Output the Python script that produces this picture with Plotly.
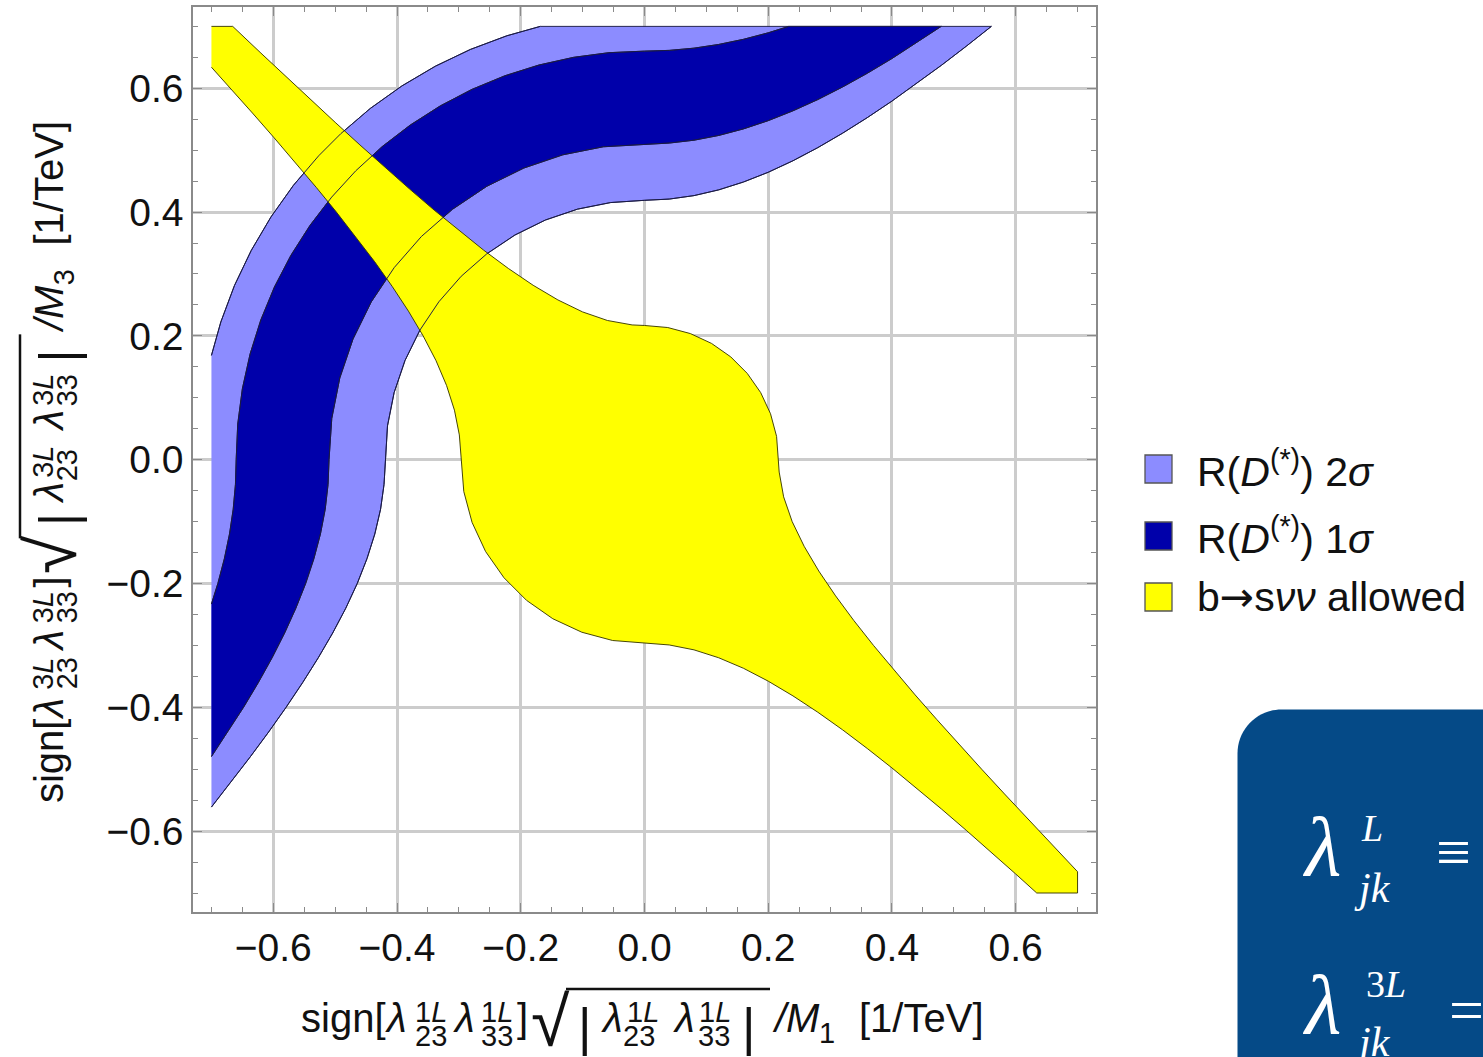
import plotly.graph_objects as go

# ---------------- data (units 1/TeV) ----------------
CLIP = 0.7  # region-plot range on both axes

# R(D(*)) 2 sigma band: inner boundary (bottom-left -> top-right)
band2_in_x = [-0.7000, -0.6678, -0.6372, -0.6076, -0.5793, -0.5525, -0.5273, -0.5040, -0.4829, -0.4643,
              -0.4486, -0.4359, -0.4266, -0.4210, -0.4190,
              -0.4154, -0.4047, -0.3871, -0.3629, -0.3324, -0.2963, -0.2551, -0.2095, -0.1603, -0.1084,
              -0.0547, 0.0000,
              0.0400, 0.0800, 0.1200, 0.1600, 0.2000, 0.2400, 0.2800, 0.3200, 0.3600, 0.4000, 0.4400,
              0.4800, 0.5200, 0.5607]
band2_in_y = [-0.5612, -0.5200, -0.4800, -0.4400, -0.4000, -0.3600, -0.3200, -0.2800, -0.2400, -0.2000,
              -0.1600, -0.1200, -0.0800, -0.0400, 0.0000,
              0.0547, 0.1084, 0.1603, 0.2095, 0.2551, 0.2963, 0.3324, 0.3629, 0.3871, 0.4047,
              0.4154, 0.4190,
              0.4210, 0.4266, 0.4359, 0.4486, 0.4643, 0.4829, 0.5040, 0.5273, 0.5525, 0.5793, 0.6076,
              0.6372, 0.6678, 0.7000]
# R(D(*)) 2 sigma band: outer boundary
band2_out_x = [-0.7000, -0.6848, -0.6628, -0.6357, -0.6038, -0.5674, -0.5266, -0.4910, -0.4433, -0.3921,
               -0.3380, -0.2813, -0.2225, -0.1685]
band2_out_y = [0.1685, 0.2225, 0.2813, 0.3380, 0.3921, 0.4433, 0.4910, 0.5266, 0.5674, 0.6038,
               0.6357, 0.6628, 0.6848, 0.7000]

# R(D(*)) 1 sigma band: inner boundary
band1_in_x = [-0.7000, -0.6735, -0.6481, -0.6242, -0.6020, -0.5817, -0.5636, -0.5477, -0.5344, -0.5238,
              -0.5161, -0.5115, -0.5099,
              -0.5055, -0.4925, -0.4711, -0.4416, -0.4045, -0.3606, -0.3104, -0.2550, -0.1951, -0.1320,
              -0.0666, 0.0000,
              0.0400, 0.0800, 0.1200, 0.1600, 0.2000, 0.2400, 0.2800, 0.3200, 0.3600, 0.4000, 0.4400, 0.4796]
band1_in_y = [-0.4796, -0.4400, -0.4000, -0.3600, -0.3200, -0.2800, -0.2400, -0.2000, -0.1600, -0.1200,
              -0.0800, -0.0400, 0.0000,
              0.0666, 0.1320, 0.1951, 0.2550, 0.3104, 0.3606, 0.4045, 0.4416, 0.4711, 0.4925,
              0.5055, 0.5099,
              0.5115, 0.5161, 0.5238, 0.5344, 0.5477, 0.5636, 0.5817, 0.6020, 0.6242, 0.6481, 0.6735, 0.7000]
# R(D(*)) 1 sigma band: outer boundary
band1_out_x = [-0.7000, -0.6896, -0.6791, -0.6708, -0.6648, -0.6612, -0.6600,
               -0.6575, -0.6500, -0.6375, -0.6202, -0.5982, -0.5716, -0.5406, -0.5056, -0.4667, -0.4242,
               -0.3786, -0.3300, -0.2789, -0.2257, -0.1708, -0.1146, -0.0575, 0.0000,
               0.0400, 0.0800, 0.1200, 0.1600, 0.2000, 0.2332]
band1_out_y = [-0.2332, -0.2000, -0.1600, -0.1200, -0.0800, -0.0400, 0.0000,
               0.0575, 0.1146, 0.1708, 0.2257, 0.2789, 0.3300, 0.3786, 0.4242, 0.4667, 0.5056,
               0.5406, 0.5716, 0.5982, 0.6202, 0.6375, 0.6500, 0.6575, 0.6600,
               0.6612, 0.6648, 0.6708, 0.6791, 0.6896, 0.7000]

# b -> s nu nu allowed: upper-right boundary
bsnn_up_x = [-0.6656, -0.6200, -0.5800, -0.5400, -0.5000, -0.4600, -0.4200, -0.3800, -0.3400, -0.3000,
             -0.2600, -0.2200, -0.1800, -0.1400, -0.1000, -0.0600, -0.0200, 0.0000,
             0.0376, 0.0742, 0.1084, 0.1394, 0.1661, 0.1878, 0.2037, 0.2135, 0.2168,
             0.2177, 0.2249, 0.2387, 0.2581, 0.2818, 0.3089, 0.3385, 0.3701, 0.4032, 0.4375, 0.4727,
             0.5085, 0.5450, 0.5819, 0.6192, 0.6568, 0.7000]
bsnn_up_y = [0.7000, 0.6568, 0.6192, 0.5819, 0.5450, 0.5085, 0.4727, 0.4375, 0.4032, 0.3701,
             0.3385, 0.3089, 0.2818, 0.2581, 0.2387, 0.2249, 0.2177, 0.2168,
             0.2135, 0.2037, 0.1878, 0.1661, 0.1394, 0.1084, 0.0742, 0.0376, 0.0000,
             -0.0200, -0.0600, -0.1000, -0.1400, -0.1800, -0.2200, -0.2600, -0.3000, -0.3400, -0.3800,
             -0.4200, -0.4600, -0.5000, -0.5400, -0.5800, -0.6200, -0.6656]
# b -> s nu nu allowed: lower-left boundary
bsnn_lo_x = [-0.7000, -0.6693, -0.6337, -0.5987, -0.5643, -0.5307, -0.4980, -0.4665, -0.4363, -0.4079,
             -0.3816, -0.3578, -0.3370, -0.3200, -0.3072, -0.2993, -0.2966,
             -0.2921, -0.2787, -0.2569, -0.2272, -0.1907, -0.1483, -0.1014, -0.0515, 0.0000,
             0.0400, 0.0800, 0.1200, 0.1600, 0.2000, 0.2400, 0.2800, 0.3200, 0.3600, 0.4000, 0.4400,
             0.4800, 0.5200, 0.5600, 0.6000, 0.6340]
bsnn_lo_y = [0.6340, 0.6000, 0.5600, 0.5200, 0.4800, 0.4400, 0.4000, 0.3600, 0.3200, 0.2800,
             0.2400, 0.2000, 0.1600, 0.1200, 0.0800, 0.0400, 0.0000,
             -0.0515, -0.1014, -0.1483, -0.1907, -0.2272, -0.2569, -0.2787, -0.2921, -0.2966,
             -0.2993, -0.3072, -0.3200, -0.3370, -0.3578, -0.3816, -0.4079, -0.4363, -0.4665, -0.4980,
             -0.5307, -0.5643, -0.5987, -0.6337, -0.6693, -0.7000]

legend_labels = ["R(<i>D</i><sup>(*)</sup>) 2<i>σ</i>",
                 "R(<i>D</i><sup>(*)</sup>) 1<i>σ</i>",
                 "b<span style='font-family:DejaVu Sans'>→</span>s<i>νν</i> allowed"]
tick_vals = [-0.6, -0.4, -0.2, 0.0, 0.2, 0.4, 0.6]
tick_text = ["−0.6", "−0.4", "−0.2", "0.0", "0.2", "0.4", "0.6"]

# ---------------- styles ----------------
C_LIGHT = "#8c8cff"
C_DARK = "#0000aa"
C_YEL = "#ffff00"
EDGE_B = "rgba(25,25,70,0.95)"
EDGE_Y = "rgba(60,60,0,0.95)"
SANS = "Liberation Sans, Arial, sans-serif"
SERIF = "Liberation Serif, Times New Roman, serif"

W, H = 1483, 1057
ML, MR, MT, MB = 193, 387, 7, 145
PW, PH = W - ML - MR, H - MT - MB


def fx(px):
    return (px - ML) / PW


def fy(py):
    return (H - MB - py) / PH


fig = go.Figure()

# filled regions
poly2_x = band2_in_x + band2_out_x[::-1]
poly2_y = band2_in_y + band2_out_y[::-1]
fig.add_trace(go.Scatter(x=poly2_x, y=poly2_y, fill="toself", fillcolor=C_LIGHT, mode="lines",
                         line=dict(color=EDGE_B, width=1), hoverinfo="skip", showlegend=False))
poly1_x = band1_in_x + band1_out_x[::-1]
poly1_y = band1_in_y + band1_out_y[::-1]
fig.add_trace(go.Scatter(x=poly1_x, y=poly1_y, fill="toself", fillcolor=C_DARK, mode="lines",
                         line=dict(color=EDGE_B, width=1), hoverinfo="skip", showlegend=False))
polyy_x = [-CLIP] + bsnn_up_x + [CLIP] + bsnn_lo_x[::-1]
polyy_y = [CLIP] + bsnn_up_y + [-CLIP] + bsnn_lo_y[::-1]
fig.add_trace(go.Scatter(x=polyy_x, y=polyy_y, fill="toself", fillcolor=C_YEL, mode="lines",
                         line=dict(color=EDGE_Y, width=1), hoverinfo="skip", showlegend=False))
# band boundaries drawn over the yellow region
for bx, by in [(band2_in_x, band2_in_y), (band2_out_x, band2_out_y),
               (band1_in_x, band1_in_y), (band1_out_x, band1_out_y)]:
    fig.add_trace(go.Scatter(x=bx, y=by, mode="lines", line=dict(color=EDGE_B, width=1),
                             hoverinfo="skip", showlegend=False))

axis_common = dict(
    tickmode="array", tickvals=tick_vals, ticktext=tick_text,
    ticks="inside", ticklen=9, tickwidth=1.3, tickcolor="#8a8a8a",
    showline=True, linecolor="#8a8a8a", linewidth=1.5, mirror="ticks",
    showgrid=True, gridcolor="#cccccc", gridwidth=2.6, zeroline=False,
    minor=dict(tickmode="linear", tick0=0, dtick=0.05, ticks="inside", ticklen=5,
               tickwidth=1.1, tickcolor="#8a8a8a", showgrid=False),
    tickfont=dict(family=SANS, size=39, color="#111111"),
    automargin=False, fixedrange=True,
)
fig.update_layout(
    width=W, height=H,
    margin=dict(l=ML, r=MR, t=MT, b=MB, pad=0),
    paper_bgcolor="white", plot_bgcolor="white",
    xaxis=dict(range=[-0.7298, 0.7298], **axis_common),
    yaxis=dict(range=[-0.7307, 0.7313], **axis_common),
    showlegend=False,
)

annotations = []
shapes = []


def ann(text, cx, cy, size, angle=0, family=SANS, color="#111111", xanchor="center"):
    annotations.append(dict(text=text, x=fx(cx), y=fy(cy), xref="paper", yref="paper",
                            showarrow=False, xanchor=xanchor, yanchor="middle", textangle=angle,
                            borderpad=0, font=dict(family=family, size=size, color=color)))


# axis titles: (text, centre x along x-title, baseline y, size)
MAIN, SCR = 40, 29


def title_parts(idx, msub):
    return [
        ("sign[", 343.4, 1032, MAIN),
        ("<i>λ</i>", 396, 1032, MAIN),
        (idx + "<i>L</i>", 430.5, 1022, SCR),
        ("23", 431, 1046, SCR),
        ("<i>λ</i>", 464, 1032, MAIN),
        (idx + "<i>L</i>", 497, 1022, SCR),
        ("33", 497, 1046, SCR),
        ("]", 522, 1032, MAIN),
        ("√", 550, 1046, 70),
        ("|", 585, 1045, 52),
        ("<i>λ</i>", 612, 1032, MAIN),
        (idx + "<i>L</i>", 642.5, 1022, SCR),
        ("23", 639, 1046, SCR),
        ("<i>λ</i>", 684, 1032, MAIN),
        (idx + "<i>L</i>", 714.5, 1022, SCR),
        ("33", 714, 1046, SCR),
        ("|", 748.5, 1045, 52),
        ("<i>/M</i>", 795.5, 1032, MAIN),
        (msub, 827, 1043, SCR),
        ("[1/TeV]", 921, 1032, MAIN),
    ]


XC, YC, PERP = 644.85, 459.5, 969
for t, cx, base, s in title_parts("1", "1"):
    ann(t, cx, base - 0.3465 * s, s)
for t, cx, base, s in title_parts("3", "3"):
    ann(t, (base - 0.3465 * s) - PERP, YC - (cx - XC), s, angle=-90)

# radical overlines
shapes.append(dict(type="line", xref="paper", yref="paper", x0=fx(566), x1=fx(770), y0=fy(989), y1=fy(989),
                   line=dict(color="#111111", width=2.5)))
shapes.append(dict(type="line", xref="paper", yref="paper", x0=fx(989 - PERP), x1=fx(989 - PERP),
                   y0=fy(YC - (566 - XC)), y1=fy(YC - (770 - XC)), line=dict(color="#111111", width=2.5)))

# legend
sw_colors = [C_LIGHT, C_DARK, C_YEL]
row_y = [469, 536, 597]
for lab, col, ry in zip(legend_labels, sw_colors, row_y):
    shapes.append(dict(type="rect", xref="paper", yref="paper", x0=fx(1145), x1=fx(1172),
                       y0=fy(ry - 14), y1=fy(ry + 14), fillcolor=col, line=dict(color="#555555", width=1.3)))
    ann(lab, 1196, ry, 41, xanchor="left")

# dark-blue box (partially visible) with formula text
L, R, T, B = fx(1237.5), fx(1530), fy(709.5), fy(1120)
rx, ry_ = 44 / PW, 44 / PH
k = 0.5523
path = (f"M {L},{B} L {L},{T - ry_} C {L},{T - ry_ + k * ry_} {L + rx - k * rx},{T} {L + rx},{T} "
        f"L {R},{T} L {R},{B} Z")
shapes.append(dict(type="path", xref="paper", yref="paper", path=path, fillcolor="#054a87",
                   line=dict(width=0), layer="above"))
WH = "white"
ann("<i>λ</i>", 1321, 846, 84, family=SERIF, color=WH)
ann("<i>L</i>", 1372, 828, 38, family=SERIF, color=WH)
ann("<i>jk</i>", 1372, 888, 42, family=SERIF, color=WH)
ann("≡", 1453, 852, 62, family=SERIF, color=WH)
ann("<i>λ</i>", 1321, 1004, 84, family=SERIF, color=WH)
ann("3<i>L</i>", 1386, 984, 38, family=SERIF, color=WH)
ann("<i>jk</i>", 1372, 1042, 42, family=SERIF, color=WH)
ann("=", 1466, 1010, 62, family=SERIF, color=WH)

fig.update_layout(annotations=annotations, shapes=shapes)
fig.write_html("out.html", config={"displayModeBar": False},
               post_script="document.body.style.margin='0';")
